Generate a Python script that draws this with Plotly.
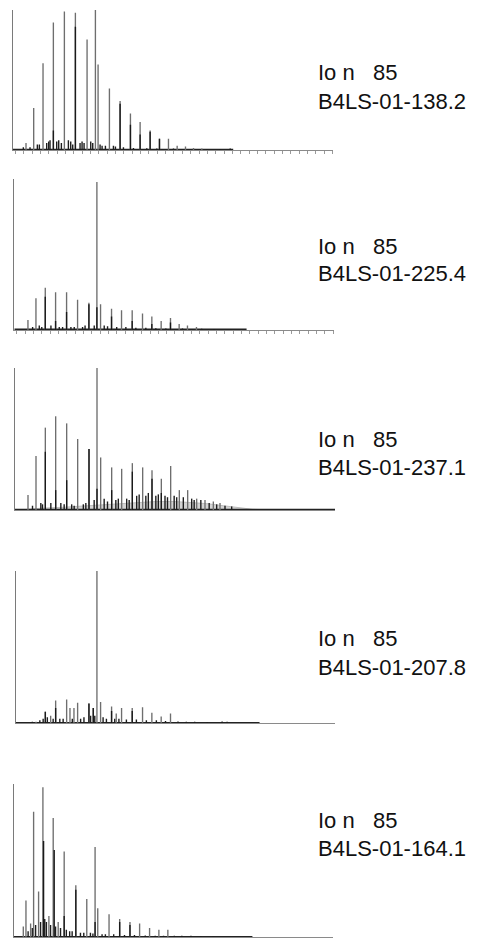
import plotly.graph_objects as go

W, H = 487, 939

# Retention time axis (min) shared by every trace
X_MAX = 38.4

# ---- Sample labels ----
ion_label = "Io n\u00a0\u00a0 85"
samples = ["B4LS-01-138.2", "B4LS-01-225.4", "B4LS-01-237.1", "B4LS-01-207.8", "B4LS-01-164.1"]

# ---- Main resolved peaks (retention time, relative intensity) ----
p1_t = [1.56, 2.48, 3.60, 4.84, 6.16, 7.48, 8.88, 9.88, 10.20, 11.56, 12.84, 14.08, 15.24, 16.44,
        17.56, 18.64, 19.68, 20.68, 21.64, 22.64]
p1_h = [0.05, 0.30, 0.62, 0.91, 0.99, 0.98, 0.79, 1.00, 0.61, 0.44, 0.35, 0.26, 0.20, 0.14,
        0.08, 0.08, 0.03, 0.025, 0.015, 0.01]

p2_t = [1.64, 2.60, 3.72, 4.96, 6.28, 7.60, 8.96, 9.92, 10.36, 11.68, 12.88, 14.16, 15.40, 16.52,
        17.64, 18.76, 19.80, 20.80, 21.88]
p2_h = [0.066, 0.21, 0.28, 0.25, 0.25, 0.20, 0.18, 0.98, 0.17, 0.14, 0.13, 0.13, 0.11, 0.09,
        0.06, 0.08, 0.04, 0.03, 0.02]

p3_t = [1.56, 2.52, 3.64, 4.88, 6.20, 7.52, 8.88, 9.84, 10.28, 11.60, 12.80, 14.08, 15.32, 16.44,
        17.56, 18.68, 19.72, 20.72, 21.80, 22.80, 23.80, 24.60]
p3_h = [0.105, 0.38, 0.58, 0.66, 0.61, 0.50, 0.43, 1.00, 0.37, 0.30, 0.29, 0.33, 0.30, 0.28,
        0.22, 0.31, 0.14, 0.14, 0.08, 0.07, 0.06, 0.05]

p4_t = [2.44, 3.56, 4.20, 4.80, 6.12, 6.52, 7.00, 7.44, 8.80, 9.32, 9.76, 10.20, 11.52, 12.08,
        12.72, 14.00, 15.24, 16.36, 17.48, 18.60]
p4_h = [0.01, 0.076, 0.05, 0.15, 0.157, 0.10, 0.10, 0.135, 0.13, 0.10, 1.00, 0.14, 0.11, 0.065,
        0.10, 0.10, 0.105, 0.07, 0.045, 0.065]

p5_t = [1.12, 1.44, 2.00, 2.36, 2.96, 3.48, 4.20, 4.72, 5.32, 6.04, 7.44, 8.76, 9.76, 10.08,
        11.44, 12.72, 13.96, 15.12, 16.32, 17.44, 18.52]
p5_h = [0.07, 0.24, 0.09, 0.82, 0.30, 0.98, 0.14, 0.78, 0.10, 0.56, 0.34, 0.25, 0.59, 0.19,
        0.15, 0.12, 0.10, 0.09, 0.06, 0.05, 0.05]

# ---- Co-eluting inner peaks (darker traces) ----
d1_t = [4.84, 7.48, 12.84, 14.08, 15.24, 16.44, 17.56]
d1_h = [0.14, 0.88, 0.33, 0.18, 0.11, 0.13, 0.08]
d2_t = [3.72, 4.96, 6.28, 8.96, 9.92, 11.68, 14.16, 16.52, 18.76]
d2_h = [0.22, 0.06, 0.12, 0.17, 0.15, 0.09, 0.06, 0.04, 0.05]
d3_t = [3.64, 4.88, 6.20, 8.88, 9.84, 11.60, 14.08, 16.44, 17.56]
d3_h = [0.41, 0.14, 0.21, 0.43, 0.15, 0.14, 0.27, 0.22, 0.12]
d4_t = [3.56, 4.80, 8.80, 9.32, 11.52, 14.00]
d4_h = [0.076, 0.10, 0.13, 0.10, 0.08, 0.08]
d5_t = [3.56, 4.84, 6.04, 7.44, 9.76, 12.72, 13.96]
d5_h = [0.63, 0.57, 0.14, 0.31, 0.10, 0.10, 0.08]

# ---- Minor peaks near the baseline ----
m1_t = [1.24, 2.04, 2.92, 3.16, 4.04, 4.28, 4.44, 5.24, 5.48, 5.80, 6.64, 6.92, 7.16, 8.04, 8.28,
        8.52, 9.32, 9.56, 10.44, 10.68, 11.08, 12.04, 12.28, 13.24, 14.44, 16.04, 17.24, 19.24,
        20.84, 23.24, 24.84, 26.04]
m1_h = [0.02, 0.02, 0.04, 0.04, 0.05, 0.06, 0.07, 0.06, 0.07, 0.05, 0.07, 0.06, 0.04, 0.05, 0.06,
        0.05, 0.06, 0.05, 0.04, 0.03, 0.03, 0.03, 0.025, 0.02, 0.015, 0.012, 0.01, 0.01,
        0.008, 0.006, 0.006, 0.01]
m2_t = [2.2, 3.0, 3.3, 4.4, 5.4, 5.8, 6.8, 7.2, 8.2, 8.5, 9.6, 10.8, 11.2, 12.3, 13.4, 14.6, 15.8,
        17.0, 18.2, 20.2, 22.5, 24.0, 26.0]
m2_h = [0.02, 0.03, 0.02, 0.03, 0.02, 0.02, 0.02, 0.02, 0.02, 0.03, 0.03, 0.03, 0.025, 0.02, 0.02,
        0.015, 0.015, 0.012, 0.01, 0.01, 0.008, 0.006, 0.005]
m3_t = [2.1, 3.1, 3.3, 4.3, 5.5, 5.9, 6.8, 7.1, 8.2, 8.5, 9.5, 10.7, 11.1, 12.1, 12.4, 13.4, 13.7,
        14.6, 14.9, 15.7, 16.0, 16.9, 17.2, 18.0, 18.3, 19.1, 19.4, 20.2, 21.2, 21.5, 22.3, 23.3,
        24.2, 25.2, 26.0]
m3_h = [0.03, 0.05, 0.04, 0.05, 0.05, 0.04, 0.04, 0.03, 0.04, 0.05, 0.07, 0.08, 0.06, 0.07, 0.08,
        0.08, 0.07, 0.10, 0.11, 0.10, 0.12, 0.10, 0.11, 0.10, 0.09, 0.10, 0.09, 0.09, 0.08, 0.07,
        0.07, 0.05, 0.04, 0.03, 0.025]
m4_t = [2.0, 2.9, 3.3, 3.8, 4.5, 5.3, 5.7, 6.8, 7.8, 8.2, 9.0, 9.5, 10.5, 10.9, 11.9, 12.4, 13.3,
        14.5, 15.7, 16.9, 18.0, 19.5, 20.5, 21.5, 23.0, 24.8, 25.4]
m4_h = [0.01, 0.02, 0.03, 0.04, 0.03, 0.03, 0.03, 0.03, 0.03, 0.04, 0.05, 0.05, 0.04, 0.03, 0.03,
        0.03, 0.025, 0.025, 0.02, 0.02, 0.015, 0.012, 0.01, 0.01, 0.008, 0.012, 0.01]
m5_t = [1.7, 2.2, 2.6, 3.2, 3.7, 3.9, 4.4, 5.0, 5.6, 6.3, 6.7, 7.0, 8.0, 8.4, 9.2, 9.5, 10.6, 11.0,
        12.0, 13.3, 14.5, 15.8, 17.0, 18.0, 19.3, 20.2, 21.3, 22.5, 24.0]
m5_h = [0.04, 0.06, 0.08, 0.10, 0.12, 0.10, 0.08, 0.07, 0.06, 0.05, 0.04, 0.04, 0.03, 0.03, 0.03,
        0.025, 0.02, 0.02, 0.02, 0.015, 0.015, 0.012, 0.01, 0.01, 0.01, 0.01, 0.01, 0.008, 0.006]

# Unresolved complex mixture hump under sample 3
hump_t = [0.6, 3.0, 6.0, 9.0, 12.0, 15.0, 17.0, 19.0, 21.0, 23.0, 25.0, 27.0, 28.5, 31.0]
hump_h = [0.0, 0.012, 0.02, 0.03, 0.04, 0.05, 0.06, 0.06, 0.055, 0.045, 0.03, 0.015, 0.005, 0.0]

# End of the thick detector baseline for each sample (min)
base_end = [26.4, 27.9, X_MAX, 29.3, 28.7]

panels = [
    (p1_t, p1_h, d1_t, d1_h, m1_t, m1_h),
    (p2_t, p2_h, d2_t, d2_h, m2_t, m2_h),
    (p3_t, p3_h, d3_t, d3_h, m3_t, m3_h),
    (p4_t, p4_h, d4_t, d4_h, m4_t, m4_h),
    (p5_t, p5_h, d5_t, d5_h, m5_t, m5_h),
]

# Plot-area geometry in pixels: (left, right, top, baseline)
boxes = [
    (13.0, 333.3, 10.0, 150.0),
    (14.3, 334.0, 179.0, 330.0),
    (15.0, 335.0, 368.0, 510.0),
    (15.7, 335.3, 571.0, 723.3),
    (14.0, 333.0, 784.3, 937.3),
]
label_y = [(72, 101), (246, 273), (439, 467), (638, 667), (820, 848)]
show_ticks = [True, True, False, False, False]


def stems(ts, hs):
    xs, ys = [], []
    for t, h in zip(ts, hs):
        xs += [t, t, None]
        ys += [0, h, None]
    return xs, ys


fig = go.Figure()
layout = dict(
    width=W, height=H, margin=dict(l=0, r=0, t=0, b=0),
    paper_bgcolor="white", plot_bgcolor="white", showlegend=False,
)
annotations = []

for i, (pt, ph, dt, dh, mt, mh) in enumerate(panels):
    k = "" if i == 0 else str(i + 1)
    xa, ya = "x" + k, "y" + k
    left, right, top, base = boxes[i]

    if i == 2:
        fig.add_trace(go.Scatter(x=hump_t, y=hump_h, xaxis=xa, yaxis=ya, mode="lines",
                                 line=dict(color="#bdbdbd", width=1), fill="tozeroy",
                                 fillcolor="#d4d4d4", hoverinfo="skip"))

    # thick detector baseline
    fig.add_trace(go.Scatter(x=[0, base_end[i]], y=[0.004, 0.004], xaxis=xa, yaxis=ya,
                             mode="lines", line=dict(color="#222222", width=1.6),
                             hoverinfo="skip"))
    mx, my = stems(mt, mh)
    fig.add_trace(go.Scatter(x=mx, y=my, xaxis=xa, yaxis=ya, mode="lines",
                             line=dict(color="#1e1e1e", width=1.4), hoverinfo="skip"))
    px, py = stems(pt, ph)
    fig.add_trace(go.Scatter(x=px, y=py, xaxis=xa, yaxis=ya, mode="lines",
                             line=dict(color="#6e6e6e", width=1.35), hoverinfo="skip"))
    dx, dy = stems(dt, dh)
    fig.add_trace(go.Scatter(x=dx, y=dy, xaxis=xa, yaxis=ya, mode="lines",
                             line=dict(color="#1a1a1a", width=1.4), hoverinfo="skip"))

    xaxis = dict(domain=[left / W, right / W], range=[0, X_MAX], anchor=ya,
                 showgrid=False, zeroline=False, showline=True, linecolor="#8a8a8a",
                 linewidth=1, showticklabels=False, fixedrange=True)
    if show_ticks[i]:
        xaxis.update(ticks="outside", ticklen=3, tickcolor="#9a9a9a", tickwidth=1,
                     tick0=1.3, dtick=1)
    else:
        xaxis.update(ticks="")
    yaxis = dict(domain=[1 - base / H, 1 - top / H], range=[0, 1.0], anchor=xa,
                 showgrid=False, zeroline=False, showline=True, linecolor="#7a7a7a",
                 linewidth=1.2, showticklabels=False, ticks="", fixedrange=True)
    layout["xaxis" + k] = xaxis
    layout["yaxis" + k] = yaxis

    y1, y2 = label_y[i]
    for txt, yy in ((ion_label, y1), (samples[i], y2)):
        annotations.append(dict(text=txt, x=316 / W, y=1 - yy / H, xref="paper", yref="paper",
                                xanchor="left", yanchor="middle", showarrow=False,
                                font=dict(family="Liberation Sans, Arial, sans-serif",
                                          size=22, color="#111111")))

layout["annotations"] = annotations
fig.update_layout(**layout)
fig.write_html("out.html")
